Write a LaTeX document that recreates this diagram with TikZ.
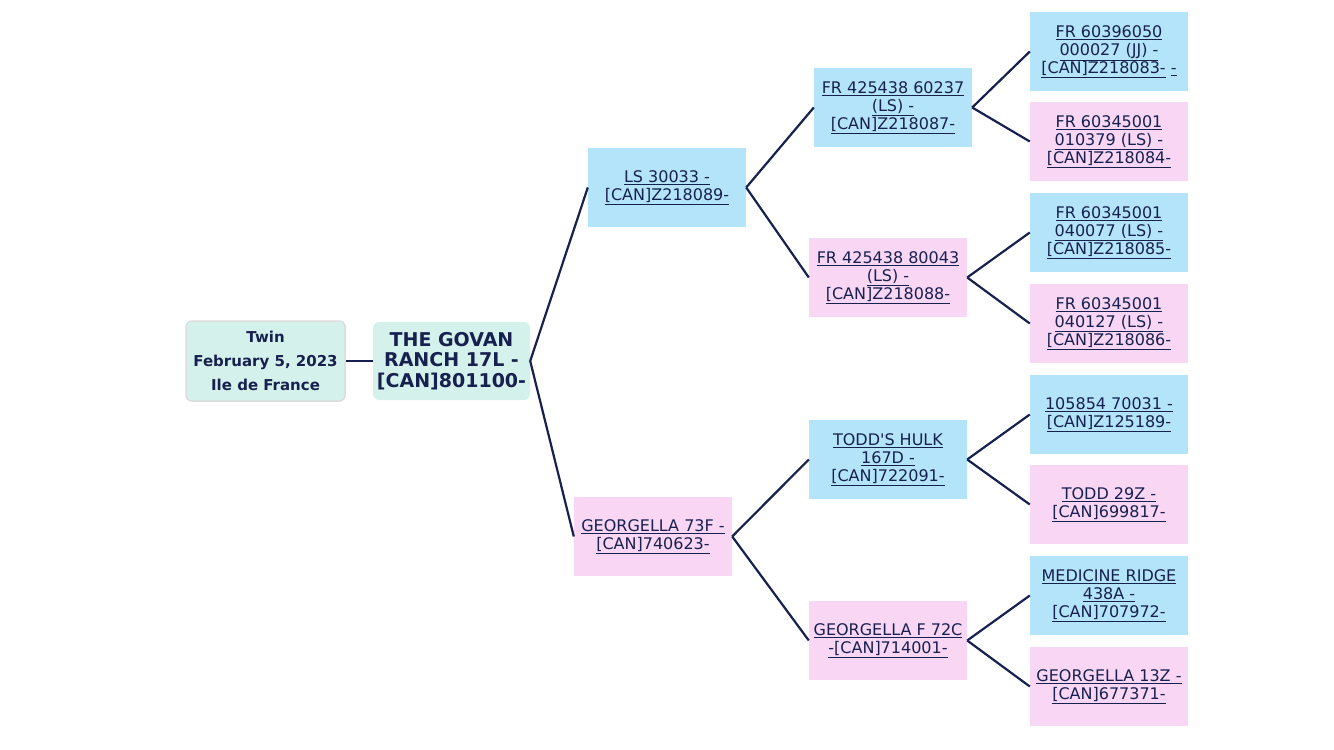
\documentclass[tikz,border=0pt]{standalone}
\usepackage{fontspec}
\setmainfont{DejaVu Sans}
\usepackage{tikz}
\usetikzlibrary{positioning}
\definecolor{pblue}{HTML}{B4E4FA}
\definecolor{ppink}{HTML}{F8D6F4}
\definecolor{pteal}{HTML}{D5F1EC}
\definecolor{pnavy}{HTML}{17214F}
\definecolor{pgrey}{HTML}{DCDCDC}
\newcommand{\undl}[1]{\underline{#1}}
\tikzset{
  card/.style={rectangle, inner sep=0pt, minimum width=158pt, minimum height=79pt,
               align=center, text=pnavy, font=\fontsize{16}{18}\selectfont},
  sire/.style={card, fill=pblue},
  dam/.style={card, fill=ppink},
  head/.style={rectangle, rounded corners=6pt, fill=pteal, inner sep=0pt, minimum width=157pt,
               minimum height=78pt, align=center, text=pnavy},
  link/.style={draw=pnavy, line width=2.2pt}
}
\begin{document}
\begin{tikzpicture}[x=1pt, y=-1pt]
  \useasboundingbox (0,0) rectangle (1334,750);

  % subject and birth info
  \node[head, font=\fontsize{19}{20.5}\selectfont\bfseries] (root) at (451.5,361)
    {THE GOVAN\\RANCH 17L -\\{}[CAN]801100-};
  \node[head, draw=pgrey, line width=1.5pt, minimum width=159pt, minimum height=80pt,
        font=\fontsize{15}{24}\selectfont\bfseries, left=27pt of root] (info)
    {Twin\\February 5, 2023\\Ile de France};

  % parents
  \node[sire] (s) at (667,187.5) {\undl{LS 30033 -}\\\undl{[CAN]Z218089-}};
  \node[dam] (d) at (653,536.5) {\undl{GEORGELLA 73F -}\\\undl{[CAN]740623-}};

  % grandparents
  \node[sire] (ss) at (893,107.5) {\undl{FR 425438 60237}\\\undl{(LS) -}\\\undl{[CAN]Z218087-}};
  \node[dam] (sd) at (888,277.5) {\undl{FR 425438 80043}\\\undl{(LS) -}\\\undl{[CAN]Z218088-}};
  \node[sire] (ds) at (888,459.5) {\undl{TODD\textquotesingle S HULK}\\\undl{167D -}\\\undl{[CAN]722091-}};
  \node[dam] (dd) at (888,640.5) {\undl{GEORGELLA F 72C}\\\undl{-[CAN]714001-}};

  % great-grandparents
  \node[sire] (sss) at (1109,51.5) {\undl{FR 60396050}\\\undl{000027 (JJ) -}\\\undl{[CAN]Z218083-} \undl{-}};
  \node[dam] (ssd) at (1109,141.5) {\undl{FR 60345001}\\\undl{010379 (LS) -}\\\undl{[CAN]Z218084-}};
  \node[sire] (sds) at (1109,232.5) {\undl{FR 60345001}\\\undl{040077 (LS) -}\\\undl{[CAN]Z218085-}};
  \node[dam] (sdd) at (1109,323.5) {\undl{FR 60345001}\\\undl{040127 (LS) -}\\\undl{[CAN]Z218086-}};
  \node[sire] (dss) at (1109,414.5) {\undl{105854 70031 -}\\\undl{[CAN]Z125189-}};
  \node[dam] (dsd) at (1109,504.5) {\undl{TODD 29Z -}\\\undl{[CAN]699817-}};
  \node[sire] (dds) at (1109,595.5) {\undl{MEDICINE RIDGE}\\\undl{438A -}\\\undl{[CAN]707972-}};
  \node[dam] (ddd) at (1109,686.5) {\undl{GEORGELLA 13Z -}\\\undl{[CAN]677371-}};

  \draw[link] (info) -- (root);
  \draw[link] (root.east) -- (s.west);
  \draw[link] (root.east) -- (d.west);
  \draw[link] (s.east) -- (ss.west);
  \draw[link] (s.east) -- (sd.west);
  \draw[link] (d.east) -- (ds.west);
  \draw[link] (d.east) -- (dd.west);
  \draw[link] (ss.east) -- (sss.west);
  \draw[link] (ss.east) -- (ssd.west);
  \draw[link] (sd.east) -- (sds.west);
  \draw[link] (sd.east) -- (sdd.west);
  \draw[link] (ds.east) -- (dss.west);
  \draw[link] (ds.east) -- (dsd.west);
  \draw[link] (dd.east) -- (dds.west);
  \draw[link] (dd.east) -- (ddd.west);
\end{tikzpicture}
\end{document}
